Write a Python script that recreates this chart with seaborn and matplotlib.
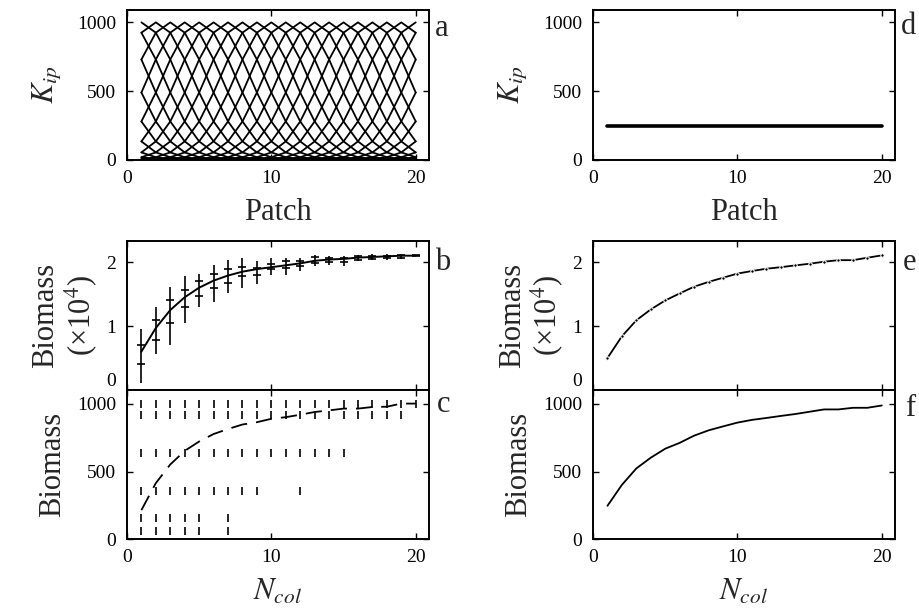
import numpy as np
import pandas as pd
import matplotlib
matplotlib.use('Agg')
import matplotlib.pyplot as plt
import seaborn as sns

# ---------------- data ----------------
patches = list(range(1, 21))
ncol = list(range(1, 21))

# panel a: K profile vs circular distance from the peak patch (0..10)
k_profile = [1000, 925, 730, 490, 280, 135, 55, 20, 6, 2, 0]
# panel d: uniform carrying capacity
k_uniform = 250

# panel b: biomass (x1e4) mean, quartiles and range per N_col
b_mean = [0.60, 0.97, 1.25, 1.45, 1.60, 1.71, 1.79, 1.85, 1.89, 1.92,
          1.95, 1.98, 2.02, 2.04, 2.05, 2.07, 2.08, 2.09, 2.10, 2.10]
b_q_hi = [0.70, 1.09, 1.40, 1.57, 1.71, 1.82, 1.89, 1.92, 1.91, 1.97,
          2.02, 2.01, 2.08, 2.07, 2.07, 2.09, 2.10, 2.10, 2.11, 2.11]
b_q_lo = [0.40, 0.78, 1.05, 1.30, 1.47, 1.59, 1.68, 1.78, 1.80, 1.89,
          1.90, 1.94, 1.99, 2.00, 2.00, 2.04, 2.05, 2.06, 2.07, 2.09]
b_top = [0.95, 1.29, 1.61, 1.78, 1.82, 1.96, 2.03, 2.06, 2.02, 2.06,
         2.07, 2.07, 2.11, 2.09, 2.09, 2.11, 2.12, 2.12, 2.12, 2.11]
b_bot = [0.11, 0.56, 0.71, 1.05, 1.30, 1.37, 1.51, 1.60, 1.65, 1.80,
         1.80, 1.86, 1.94, 1.96, 1.94, 2.02, 2.03, 2.04, 2.05, 2.09]

# panel c: per-colony biomass levels and the N_col values where they occur
c_levels = [1000, 915, 640, 360, 160, 60]
c_ncols = [list(range(1, 21)),
           list(range(1, 20)),
           list(range(1, 16)),
           list(range(1, 10)) + [12],
           [1, 2, 3, 4, 5, 7],
           [1, 2, 3, 4, 5, 7]]
c_mean = [216, 415, 552, 652, 721, 776, 813, 846, 863, 888,
          900, 918, 938, 950, 963, 963, 975, 977, 1000, 1000]

# panel e: biomass (x1e4), uniform landscape
e_mean = [0.50, 0.84, 1.09, 1.26, 1.40, 1.51, 1.615, 1.69, 1.755, 1.82,
          1.86, 1.896, 1.92, 1.948, 1.974, 2.006, 2.03, 2.03, 2.068, 2.105]
# panel f: per-colony biomass, uniform landscape
f_mean = [248, 402, 523, 602, 668, 711, 764, 803, 832, 860,
          880, 894, 909, 923, 940, 957, 957, 969, 969, 986]

# ---------------- style ----------------
sns.set_theme(style='ticks')
plt.rcParams['font.family'] = ['Liberation Serif', 'DejaVu Serif']
plt.rcParams['mathtext.fontset'] = 'stix'
plt.rcParams.update({
    'xtick.direction': 'in', 'ytick.direction': 'in',
    'xtick.top': True, 'ytick.right': True,
    'xtick.major.size': 4, 'ytick.major.size': 4,
    'xtick.major.width': 1.0, 'ytick.major.width': 1.0,
    'xtick.labelsize': 14, 'ytick.labelsize': 14,
    'axes.linewidth': 1.4, 'axes.edgecolor': 'black',
    'xtick.color': 'black', 'ytick.color': 'black',
    'axes.labelsize': 22,
})

fig = plt.figure(figsize=(9.2, 6.16), dpi=100)
L, R, W = 0.138, 0.6446, 0.328
pos_top = (0.7403, 0.2435)
pos_mid = (0.3669, 0.2419)
pos_bot = (0.1242, 0.2427)
ax_a = fig.add_axes([L, pos_top[0], W, pos_top[1]])
ax_b = fig.add_axes([L, pos_mid[0], W, pos_mid[1]])
ax_c = fig.add_axes([L, pos_bot[0], W, pos_bot[1]])
ax_d = fig.add_axes([R, pos_top[0], W, pos_top[1]])
ax_e = fig.add_axes([R, pos_mid[0], W, pos_mid[1]])
ax_f = fig.add_axes([R, pos_bot[0], W, pos_bot[1]])

# ---- panel a: shifted K landscapes ----
n = len(patches)
rows = []
for c in range(n):
    for i, p in enumerate(patches):
        d = min(abs(i - c), n - abs(i - c))
        rows.append({'line': c, 'patch': p, 'K': k_profile[d]})
df_a = pd.DataFrame(rows)
sns.lineplot(data=df_a, x='patch', y='K', units='line', estimator=None,
             color='black', lw=1.3, ax=ax_a, legend=False)

# ---- panel d: uniform K ----
df_d = pd.DataFrame({'patch': patches, 'K': [k_uniform] * n})
sns.lineplot(data=df_d, x='patch', y='K', color='black', lw=2.6, ax=ax_d)

for ax in (ax_a, ax_d):
    ax.set_xlim(0, 20.9)
    ax.set_ylim(0, 1090)
    ax.set_xticks([0, 10, 20])
    ax.set_yticks([0, 500, 1000])
    ax.set_xlabel('Patch', labelpad=8)
    ax.set_ylabel(r'$K_{ip}$', labelpad=10)

# ---- panel b ----
ax_b.vlines(ncol, b_bot, b_top, color='black', lw=1.2)
df_bq = pd.DataFrame({'n': ncol * 2, 'q': b_q_hi + b_q_lo})
sns.scatterplot(data=df_bq, x='n', y='q', marker='_', s=40, color='black',
                linewidth=1.2, ax=ax_b)
sns.lineplot(x=ncol, y=b_mean, color='black', lw=1.4, ax=ax_b)

# ---- panel e ----
sns.lineplot(x=ncol, y=e_mean, color='black', lw=1.3, marker='o',
             markersize=2.5, ax=ax_e)

for ax in (ax_b, ax_e):
    ax.set_xlim(0, 20.9)
    ax.set_ylim(0, 2.33)
    ax.set_xticks([0, 10, 20])
    ax.set_xticklabels([])
    ax.set_yticks([0, 1, 2])
    ax.set_ylabel('Biomass\n(×10$^4$)', labelpad=4, linespacing=1.1)

# ---- panel c ----
cx, cy = [], []
for lev, ns in zip(c_levels, c_ncols):
    cx += ns
    cy += [lev] * len(ns)
df_c = pd.DataFrame({'n': cx, 'b': cy})
sns.scatterplot(data=df_c, x='n', y='b', marker='|', s=30, color='black',
                linewidth=1.2, ax=ax_c)
sns.lineplot(x=ncol, y=c_mean, color='black', lw=1.3,
             linestyle=(0, (9, 5)), ax=ax_c)

# ---- panel f ----
sns.lineplot(x=ncol, y=f_mean, color='black', lw=1.3, ax=ax_f)

for ax in (ax_c, ax_f):
    ax.set_xlim(0, 20.9)
    ax.set_ylim(0, 1100)
    ax.set_xticks([0, 10, 20])
    ax.set_yticks([0, 500, 1000])
    ax.set_xlabel(r'$N_{col}$', labelpad=8)
    ax.set_ylabel('Biomass', labelpad=7)

for ax in (ax_a, ax_b, ax_c, ax_d, ax_e, ax_f):
    ax.tick_params(axis='y', pad=8)
    ax.tick_params(axis='x', pad=7)

# lift the "0" of the middle panels so it sits above the 1000 of the panel below
fig.canvas.draw()
for ax in (ax_b, ax_e):
    ax.yaxis.get_major_ticks()[0].label1.set_va('bottom')

# panel letters
for lab, (x, y) in zip('abcdef', [(442, 28), (443, 262), (444, 405),
                                  (909, 27), (910, 262), (910, 408)]):
    fig.text(x / 920, 1 - y / 616, lab, fontsize=22, ha='center', va='center')

fig.savefig('out.png', dpi=100)
